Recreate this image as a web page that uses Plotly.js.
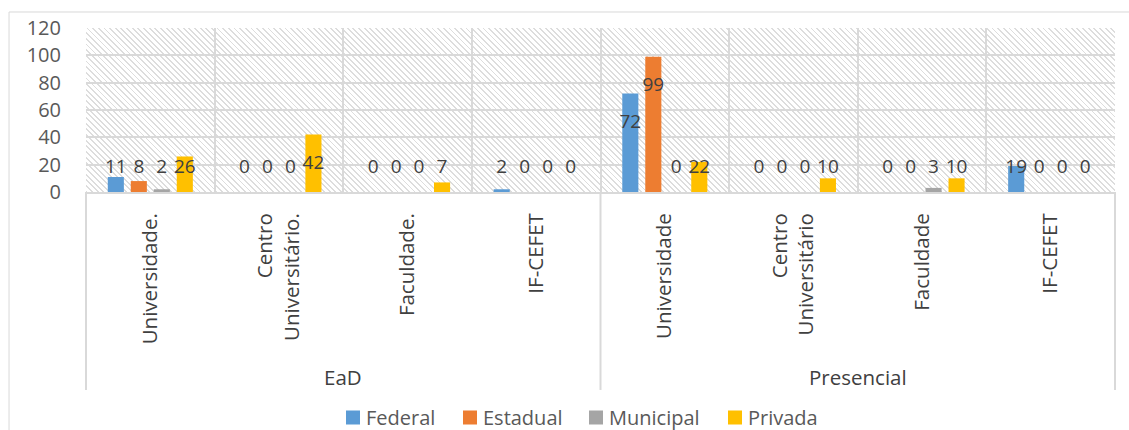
<!DOCTYPE html>
<html>
<head>
<meta charset="utf-8">
<script src="https://cdn.plot.ly/plotly-3.0.1.min.js"></script>
<style>
html,body{margin:0;padding:0;background:#fff;overflow:hidden;}
#wrap{position:relative;width:1129px;height:430px;}
#hatch{position:absolute;left:86px;top:28px;width:1029px;height:164px;
  background:repeating-linear-gradient(45deg,#dddddd 0px,#dddddd 1.3px,#ffffff 1.3px,#ffffff 4px);}
#chart{position:absolute;left:0;top:0;width:1129px;height:430px;}
</style>
</head>
<body>
<div id="wrap"><div id="hatch"></div><div id="chart"></div></div>
<script>
const groupNames = ['EaD', 'Presencial'];
// leading space on the second "IF-CEFET" keeps it a distinct category
const categories = ['Universidade.','Centro<br>Universitário.','Faculdade.','IF-CEFET',
                    'Universidade','Centro<br>Universitário','Faculdade',' IF-CEFET'];
const seriesNames = ['Federal','Estadual','Municipal','Privada'];
const federal   = [11, 0, 0, 2, 72, 0, 0, 19];
const estadual  = [8, 0, 0, 0, 99, 0, 0, 0];
const municipal = [2, 0, 0, 0, 0, 0, 3, 0];
const privada   = [26, 42, 7, 0, 22, 10, 10, 0];
const yTicks = [0, 20, 40, 60, 80, 100, 120];

const colors = ['#5B9BD5','#ED7D31','#A5A5A5','#FFC000'];
const FONT = '"Open Sans", "Noto Sans", sans-serif';
const TXT = '#404040';
const GRID = '#d9d9d9';
const allSeries = [federal, estadual, municipal, privada];

const traces = [];
allSeries.forEach((vals, i) => {
  traces.push({
    type: 'bar', name: seriesNames[i], x: categories, y: vals,
    offsetgroup: 'g' + i,
    marker: {color: colors[i]},
    hoverinfo: 'skip'
  });
});
// data labels (Excel-style: near the bottom, or inside tall bars)
allSeries.forEach((vals, i) => {
  traces.push({
    type: 'bar', x: categories, y: vals.map(v => Math.max(v - 32, 7)),
    offsetgroup: 'g' + i, showlegend: false,
    marker: {color: 'rgba(0,0,0,0)'},
    text: vals.map(String), textposition: 'outside', constraintext: 'none',
    cliponaxis: false,
    textfont: {family: FONT, size: 19, color: TXT},
    hoverinfo: 'skip'
  });
});

// group separators below the axis and group labels
const divY = -1.207, grpY = -1.128;
const shapes = [0, 0.5, 1].map(px => ({
  type: 'line', xref: 'paper', yref: 'paper', x0: px, x1: px, y0: 0, y1: divY,
  line: {color: GRID, width: 2}
}));
shapes.push({
  type: 'rect', xref: 'paper', yref: 'paper',
  x0: -0.0748, x1: 1.03, y0: -1.6, y1: 1.0976,
  line: {color: GRID, width: 1}, fillcolor: 'rgba(0,0,0,0)', layer: 'below'
});
const annotations = groupNames.map((g, k) => ({
  text: g, xref: 'paper', yref: 'paper', x: 0.25 + 0.5 * k, y: grpY,
  showarrow: false, xanchor: 'center', yanchor: 'middle',
  font: {family: FONT, size: 20.5, color: TXT}
}));

const layout = {
  width: 1129, height: 430,
  margin: {l: 86, r: 14, t: 28, b: 238, autoexpand: false},
  paper_bgcolor: 'rgba(0,0,0,0)',
  plot_bgcolor: 'rgba(0,0,0,0)',
  barmode: 'group',
  bargap: 0.285, bargroupgap: 0.3,
  showlegend: true,
  legend: {orientation: 'h', x: 0.478, xanchor: 'center', y: -1.375, yanchor: 'middle',
           font: {family: FONT, size: 20, color: '#595959'}, itemwidth: 30,
           traceorder: 'normal'},
  font: {family: FONT, color: '#595959'},
  xaxis: {
    type: 'category',
    tickson: 'boundaries', ticks: '', tickangle: -90, ticklabelstandoff: 11,
    showgrid: true, gridcolor: GRID, gridwidth: 2,
    showline: true, linecolor: GRID, linewidth: 2,
    tickfont: {family: FONT, size: 20.5, color: TXT},
    fixedrange: true
  },
  yaxis: {
    range: [0, 120], tickvals: yTicks, ticktext: yTicks.map(String),
    showgrid: true, gridcolor: GRID, gridwidth: 2, zeroline: false,
    ticks: '', ticklabelstandoff: 24,
    tickfont: {family: FONT, size: 20, color: '#595959'},
    fixedrange: true
  },
  shapes: shapes,
  annotations: annotations
};

// Excel-like legend spacing: square, small gap, text
const legendSquareLeft = [346, 463, 589, 728];
const legendSquareSize = 14, legendTextGap = 6;

Plotly.newPlot('chart', traces, layout, {staticPlot: true, displayModeBar: false}).then(gd => {
  const items = gd.querySelectorAll('.legend .traces');
  items.forEach((it, i) => {
    if (i >= legendSquareLeft.length) return;
    const h = legendSquareSize / 2;
    const sym = it.querySelector('.legendsymbols');
    const path = it.querySelector('.legendpoints path');
    if (path && sym) {
      path.setAttribute('d', `M${h},${h}H${-h}V${-h}H${h}Z`);
      const r = path.getBoundingClientRect();
      const dx = legendSquareLeft[i] - r.left;
      sym.setAttribute('transform', (sym.getAttribute('transform') || '') + ` translate(${dx},0)`);
    }
    const txt = it.querySelector('text.legendtext');
    if (txt) {
      const r = txt.getBoundingClientRect();
      const dx = legendSquareLeft[i] + legendSquareSize + legendTextGap - r.left;
      txt.setAttribute('x', (parseFloat(txt.getAttribute('x')) || 0) + dx);
    }
  });
});
</script>
</body>
</html>
